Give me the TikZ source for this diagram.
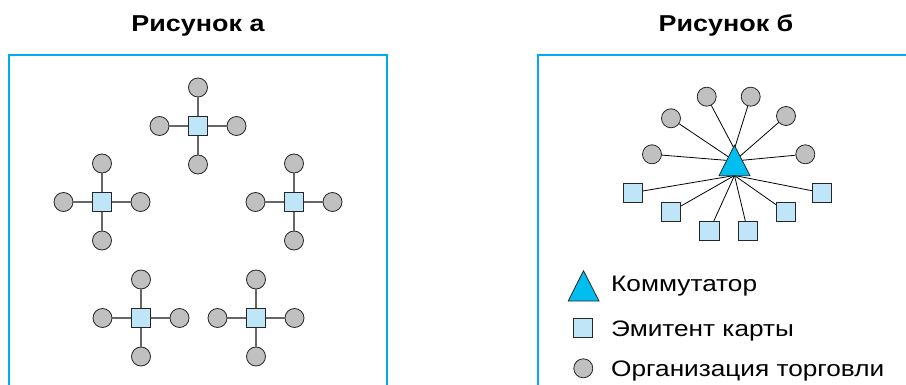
\documentclass[tikz,border=0pt]{standalone}
\usepackage{fontspec}
\setmainfont[FakeStretch=1.17]{Liberation Sans}
\definecolor{frameblue}{RGB}{0,172,236}
\definecolor{trifill}{RGB}{0,190,240}
\definecolor{sqfill}{RGB}{190,230,248}
\definecolor{dotfill}{RGB}{192,192,192}
% one card issuer with its four merchants
\newcommand\starcluster[3]{%
  \node[card] (#1) at (#2,#3) {};
  \node[dot] (#1n) at (#2,#3-38.5) {};
  \node[dot] (#1s) at (#2,#3+38.5) {};
  \node[dot] (#1w) at (#2-38.5,#3) {};
  \node[dot] (#1e) at (#2+38.5,#3) {};
  \draw[arm] (#1) -- (#1n) (#1) -- (#1s) (#1) -- (#1w) (#1) -- (#1e);
}
\begin{document}
\begin{tikzpicture}[x=1pt,y=-1pt,
  dot/.style={circle,draw=black!85,fill=dotfill,line width=0.8pt,minimum size=19pt,inner sep=0pt},
  card/.style={rectangle,draw=black!85,fill=sqfill,line width=0.8pt,minimum size=19.5pt,inner sep=0pt},
  arm/.style={draw=black!60,line width=1.2pt},
  spoke/.style={draw=black,line width=0.8pt},
  switchtri/.style={draw=black!85,fill=trifill,line width=0.8pt,line join=miter},
  frame/.style={draw=frameblue,line width=1.5pt},
  title/.style={font=\bfseries\fontsize{23}{27}\selectfont,anchor=base,inner sep=0pt},
  legend/.style={font=\fontsize{22.4}{26}\selectfont,anchor=base west,inner sep=0pt}]
\useasboundingbox (0,0) rectangle (906,385);

% titles
\node[title] (ta) at (198,32) {Рисунок а};
\node[title] (tb) at (726,32) {Рисунок б};

% frames, open at the bottom
\draw[frame] (9,386) -- (9,55) -- (387,55) -- (387,386);
\draw[frame] (538,386) -- (538,55) -- (910,55);

% panel a: separate networks
\starcluster{a}{198}{126}
\starcluster{b}{102}{202}
\starcluster{c}{294}{202}
\starcluster{d}{141}{318}
\starcluster{e}{256}{318}

% panel b: one switch for all
\coordinate (hubtop) at (734.4,149);
\coordinate (hubmid) at (734.5,161);
\coordinate (hubbase) at (734.5,175.5);

\node[dot] (m1) at (652,154.3) {};
\node[dot] (m2) at (671,118.3) {};
\node[dot] (m3) at (706.7,96.7) {};
\node[dot] (m4) at (750.7,96.7) {};
\node[dot] (m5) at (786,116) {};
\node[dot] (m6) at (805.3,154.3) {};

\node[card] (i1) at (632.7,192.7) {};
\node[card] (i2) at (671,211.7) {};
\node[card] (i3) at (709.3,231) {};
\node[card] (i4) at (747.7,231) {};
\node[card] (i5) at (786,211.7) {};
\node[card] (i6) at (822,192.7) {};

\draw[spoke] (m1) -- (hubmid);
\draw[spoke] (m2) -- (hubmid);
\draw[spoke] (m3) -- (hubtop);
\draw[spoke] (m4) -- (hubtop);
\draw[spoke] (m5) -- (hubmid);
\draw[spoke] (m6) -- (hubmid);
\foreach \k in {1,...,6} \draw[spoke] (i\k) -- (hubbase);

\draw[switchtri] (734.4,145.3) -- (750,175.7) -- (719,175.7) -- cycle;

% legend
\draw[switchtri] (583.5,270.7) -- (599,301) -- (568.2,301) -- cycle;
\node[legend] (l1) at (611,291) {Коммутатор};
\node[card] (lc) at (583,327.8) {};
\node[legend] (l2) at (611,336) {Эмитент карты};
\node[dot] (ld) at (583.3,368.3) {};
\node[legend] (l3) at (611,376) {Организация торговли};
\end{tikzpicture}
\end{document}
